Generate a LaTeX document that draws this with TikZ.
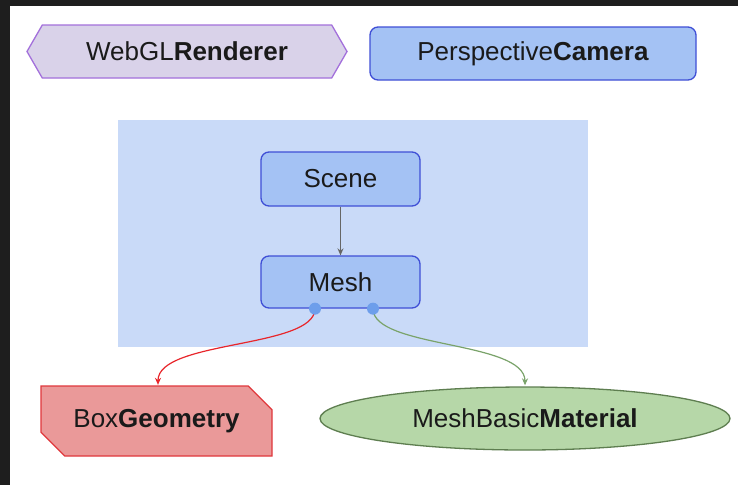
\documentclass[tikz,border=0pt]{standalone}
\usepackage{fontspec}
\setmainfont{Liberation Sans}
\usetikzlibrary{shapes.symbols,shapes.misc,shapes.geometric,arrows.meta}
\definecolor{frame}{HTML}{1E1E1E}
\definecolor{lavfill}{HTML}{D9D2E9}
\definecolor{lavdraw}{HTML}{A370DB}
\definecolor{bluefill}{HTML}{A4C2F4}
\definecolor{bluedraw}{HTML}{3F4FD6}
\definecolor{bgblue}{HTML}{C9DAF8}
\definecolor{redfill}{HTML}{EA9999}
\definecolor{reddraw}{HTML}{E0383C}
\definecolor{redline}{HTML}{E8262B}
\definecolor{greenfill}{HTML}{B6D7A8}
\definecolor{greendraw}{HTML}{5E7E50}
\definecolor{greenline}{HTML}{7AA36A}
\definecolor{dotblue}{HTML}{6D9EEB}
\definecolor{txt}{HTML}{1A1A1A}
\tikzset{
  lbl/.style={font=\fontsize{26}{30}\selectfont, text=txt, inner sep=0pt, line width=1.3pt},
  bluebox/.style={lbl, rectangle, rounded corners=8pt, fill=bluefill, draw=bluedraw},
  hexbox/.style={lbl, signal, signal to=east and west, signal pointer angle=120, fill=lavfill, draw=lavdraw},
  chambox/.style={lbl, chamfered rectangle, chamfered rectangle corners={north east,south west}, chamfered rectangle xsep=12pt, chamfered rectangle ysep=12pt, fill=redfill, draw=reddraw},
  ellbox/.style={lbl, ellipse, fill=greenfill, draw=greendraw},
  dot/.style={circle, fill=dotblue, inner sep=0pt, minimum size=12pt},
  conn/.style={line width=1.2pt, -{Stealth[length=7pt,width=6pt]}},
}
\begin{document}
\begin{tikzpicture}[x=1pt,y=-1pt]
\fill[white] (0,0) rectangle (738,485);
\useasboundingbox (0,0) rectangle (738,485);
\fill[frame] (0,0) rectangle (738,6);
\fill[frame] (0,0) rectangle (10,485);
\fill[bgblue] (118,120) rectangle (588,347);
\node[hexbox, minimum width=320pt, minimum height=53pt] (renderer) at (187,51.5) {WebGL\textbf{Renderer}};
\node[bluebox, minimum width=326pt, minimum height=53pt] (camera) at (533,53.5) {Perspective\textbf{Camera}};
\node[bluebox, minimum width=159pt, minimum height=54pt] (scene) at (340.5,179) {Scene};
\node[bluebox, minimum width=159pt, minimum height=52pt] (mesh) at (340.5,282) {Mesh};
\node[chambox, minimum width=231pt, minimum height=70pt] (box) at (156.5,421) {Box\textbf{Geometry}};
\node[ellbox, minimum width=410pt, minimum height=63pt] (mat) at (525,418.5) {MeshBasic\textbf{Material}};
\draw[conn, draw=black!60, fill=black!60] (scene) -- (mesh);
\coordinate (c1) at ([xshift=-25.5pt]mesh.south);
\coordinate (c2) at ([xshift=32.5pt]mesh.south);
\draw[conn, draw=redline] (c1) .. controls +(0,40) and +(0,-45) .. ([xshift=1.5pt,yshift=0.5pt]box.north);
\draw[conn, draw=greenline] (c2) .. controls +(0,40) and +(0,-45) .. ([yshift=1pt]mat.north);
\node[dot] (d1) at (c1) {};
\node[dot] (d2) at (c2) {};
\end{tikzpicture}
\end{document}
